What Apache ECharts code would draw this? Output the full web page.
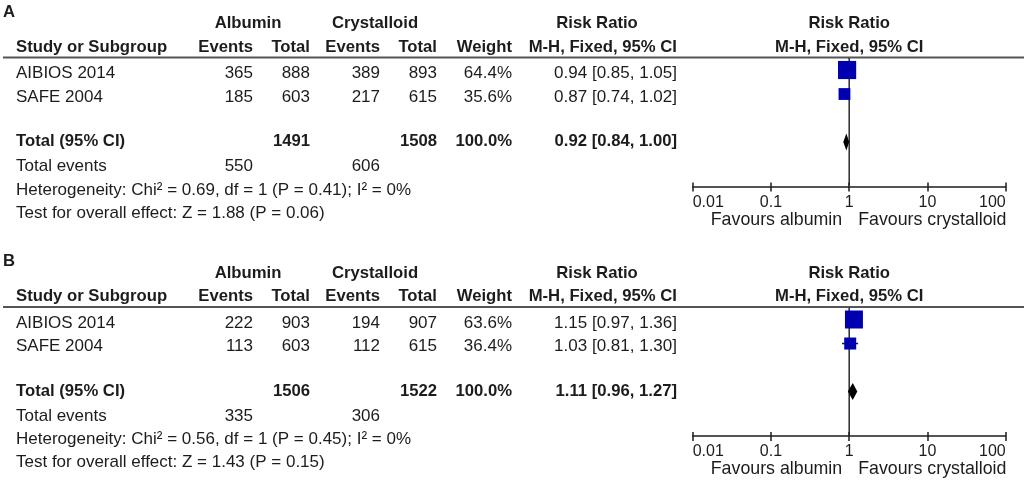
<!DOCTYPE html>
<html><head><meta charset="utf-8">
<script src="https://cdn.jsdelivr.net/npm/echarts@6/dist/echarts.min.js"></script>
<style>html,body{margin:0;padding:0;background:#fff}#c{width:1024px;height:484px}</style>
</head><body><div id="c"></div>
<script>
// ---------- data ----------
const panelLetters = ['A', 'B'];
const studies = ['AIBIOS 2014', 'SAFE 2004'];
const groupNames = ['Albumin', 'Crystalloid'];
const colHeads = ['Study or Subgroup', 'Events', 'Total', 'Events', 'Total', 'Weight'];
const rrHead = ['Risk Ratio', 'M-H, Fixed, 95% CI'];
const tickLabels = ['0.01', '0.1', '1', '10', '100'];
const favours = ['Favours albumin', 'Favours crystalloid'];
const nullEffect = 1;

// Panel A
const aAlbEvents = [365, 185];
const aAlbTotal = [888, 603];
const aCryEvents = [389, 217];
const aCryTotal = [893, 615];
const aWeight = [64.4, 35.6];
const aRR = [0.94, 0.87];
const aLow = [0.85, 0.74];
const aHigh = [1.05, 1.02];
const aPooled = [0.92, 0.84, 1.00];
const aTotals = [1491, 1508, 100.0];
const aTotalEvents = [550, 606];
const aHet = [0.69, 1, 0.41, 0];   // Chi², df, P, I²
const aOverall = [1.88, 0.06];     // Z, P

// Panel B
const bAlbEvents = [222, 113];
const bAlbTotal = [903, 603];
const bCryEvents = [194, 112];
const bCryTotal = [907, 615];
const bWeight = [63.6, 36.4];
const bRR = [1.15, 1.03];
const bLow = [0.97, 0.81];
const bHigh = [1.36, 1.30];
const bPooled = [1.11, 0.96, 1.27];
const bTotals = [1506, 1522, 100.0];
const bTotalEvents = [335, 306];
const bHet = [0.56, 1, 0.45, 0];
const bOverall = [1.43, 0.15];

const panels = [
  {albE: aAlbEvents, albT: aAlbTotal, cryE: aCryEvents, cryT: aCryTotal, w: aWeight, rr: aRR, lo: aLow, hi: aHigh,
   pooled: aPooled, totals: aTotals, tev: aTotalEvents, het: aHet, overall: aOverall},
  {albE: bAlbEvents, albT: bAlbTotal, cryE: bCryEvents, cryT: bCryTotal, w: bWeight, rr: bRR, lo: bLow, hi: bHigh,
   pooled: bPooled, totals: bTotals, tev: bTotalEvents, het: bHet, overall: bOverall}
];

// ---------- layout ----------
const FAM = "'Liberation Sans', Arial, Helvetica, sans-serif";
const FS = 17, FSB = 16.7, FSF = 17.8;
const TXT = '#1c1c1c';
const panelDy = [0, 249.5];
const rowY = {letter: 12, group: 23.5, head: 47, rule: 57.5, study0: 73.5, step: 23.5, total: 141.5, events: 166.5, het: 190, test: 213, favours: 220};
const colX = {study: 16, albE: 253, albT: 310, cryE: 380, cryT: 437, w: 512, rr: 677, albC: 248, cryC: 375, rrC: 597};
const gridLeft = 692.7, gridWidth = 313;
const gridTops = [58, 307.5], gridHeight = 128.5;

const f2 = v => v.toFixed(2);
const ciText = (e, l, h) => `${f2(e)} [${f2(l)}, ${f2(h)}]`;

function txt(text, x, y, align, bold, size) {
  return {
    type: 'text', x: x, y: y, silent: true,
    style: {
      text: String(text), fill: TXT, fontSize: size || (bold ? FSB : FS), fontFamily: FAM, fontWeight: bold ? 'bold' : 'normal',
      align: align, textAlign: align, verticalAlign: 'middle', textVerticalAlign: 'middle'
    }
  };
}

function forestData(p) {
  const d = studies.map((s, i) => [p.rr[i], p.lo[i], p.hi[i], i, p.w[i], 0]);
  d.push([p.pooled[0], p.pooled[1], p.pooled[2], studies.length + 1, p.totals[2], 1]);
  return d;
}

function renderForest(params, api) {
  const est = api.value(0), lo = api.value(1), hi = api.value(2), row = api.value(3), w = api.value(4), kind = api.value(5);
  const pe = api.coord([est, row]), pl = api.coord([lo, row]), ph = api.coord([hi, row]);
  if (kind === 1) {
    const h = 8.5;
    return {type: 'polygon', shape: {points: [[pl[0], pe[1]], [pe[0], pe[1] - h], [ph[0], pe[1]], [pe[0], pe[1] + h]]},
      style: {fill: '#000'}};
  }
  const s = 4 + 0.22 * w;
  return {type: 'group', children: [
    {type: 'line', shape: {x1: pl[0], y1: pe[1], x2: ph[0], y2: pe[1]}, style: {stroke: '#1c1c1c', lineWidth: 1.5}},
    {type: 'rect', shape: {x: pe[0] - s / 2, y: pe[1] - s / 2, width: s, height: s}, style: {fill: '#0000b0'}}
  ]};
}

function renderRef(params, api) {
  const cs = params.coordSys;
  const x = api.coord([api.value(0), 0])[0];
  return {type: 'line', shape: {x1: x, y1: cs.y, x2: x, y2: cs.y + cs.height}, style: {stroke: '#2a2a2a', lineWidth: 1.5}};
}

const labelFmt = v => tickLabels[Math.round(Math.log10(v)) + 2];

const xAxis = [], yAxis = [], grid = [], series = [];
panels.forEach((p, gi) => {
  grid.push({left: gridLeft, width: gridWidth, top: gridTops[gi], height: gridHeight, containLabel: false});
  xAxis.push({
    type: 'log', logBase: 10, min: 0.01, max: 100, gridIndex: gi, position: 'bottom',
    axisLine: {show: true, onZero: false, lineStyle: {color: '#1c1c1c', width: 1.5}},
    axisTick: {show: true, inside: false, length: 5, lineStyle: {color: '#1c1c1c', width: 1.5}},
    minorTick: {show: false}, splitLine: {show: false},
    axisLabel: {show: true, margin: 8, fontSize: 16, color: TXT, fontFamily: FAM,
      alignMinLabel: 'left', alignMaxLabel: 'right', formatter: labelFmt}
  });
  xAxis.push({
    type: 'log', logBase: 10, min: 0.01, max: 100, gridIndex: gi, position: 'bottom',
    axisLine: {show: false, onZero: false},
    axisTick: {show: true, inside: true, length: 4, lineStyle: {color: '#1c1c1c', width: 1.5}},
    minorTick: {show: false}, splitLine: {show: false}, axisLabel: {show: false}
  });
  yAxis.push({type: 'value', gridIndex: gi, inverse: true, min: -0.5, max: 4.85, show: false});
  series.push({
    type: 'custom', xAxisIndex: gi * 2, yAxisIndex: gi, renderItem: renderRef, z: 1,
    data: [[nullEffect]], silent: true
  });
  series.push({
    type: 'custom', xAxisIndex: gi * 2, yAxisIndex: gi, renderItem: renderForest, z: 3,
    data: forestData(p), silent: true
  });
});

const chart = echarts.init(document.getElementById('c'), null, {renderer: 'canvas'});
chart.setOption({animation: false, backgroundColor: '#fff', grid, xAxis, yAxis, series});

// ---------- table text ----------
const graphic = [];
panels.forEach((p, gi) => {
  const dy = panelDy[gi];
  graphic.push(txt(panelLetters[gi], 3, rowY.letter + dy, 'left', true));
  graphic.push(txt(groupNames[0], colX.albC, rowY.group + dy, 'center', true));
  graphic.push(txt(groupNames[1], colX.cryC, rowY.group + dy, 'center', true));
  graphic.push(txt(rrHead[0], colX.rrC, rowY.group + dy, 'center', true));
  const fc = gridLeft + gridWidth / 2;
  graphic.push(txt(rrHead[0], fc, rowY.group + dy, 'center', true));
  graphic.push(txt(rrHead[1], fc, rowY.head + dy, 'center', true));
  graphic.push(txt(colHeads[0], colX.study, rowY.head + dy, 'left', true));
  const hx = [colX.albE, colX.albT, colX.cryE, colX.cryT, colX.w];
  hx.forEach((x, k) => graphic.push(txt(colHeads[k + 1], x, rowY.head + dy, 'right', true)));
  graphic.push(txt(rrHead[1], colX.rr, rowY.head + dy, 'right', true));
  graphic.push({type: 'line', silent: true, shape: {x1: 3, y1: rowY.rule + dy, x2: 1024, y2: rowY.rule + dy},
    style: {stroke: '#555', lineWidth: 2}});
  studies.forEach((s, i) => {
    const y = rowY.study0 + i * rowY.step + dy;
    graphic.push(txt(s, colX.study, y, 'left', false));
    graphic.push(txt(p.albE[i], colX.albE, y, 'right', false));
    graphic.push(txt(p.albT[i], colX.albT, y, 'right', false));
    graphic.push(txt(p.cryE[i], colX.cryE, y, 'right', false));
    graphic.push(txt(p.cryT[i], colX.cryT, y, 'right', false));
    graphic.push(txt(p.w[i].toFixed(1) + '%', colX.w, y, 'right', false));
    graphic.push(txt(ciText(p.rr[i], p.lo[i], p.hi[i]), colX.rr, y, 'right', false));
  });
  const ty = rowY.total + dy;
  graphic.push(txt('Total (95% CI)', colX.study, ty, 'left', true));
  graphic.push(txt(p.totals[0], colX.albT, ty, 'right', true));
  graphic.push(txt(p.totals[1], colX.cryT, ty, 'right', true));
  graphic.push(txt(p.totals[2].toFixed(1) + '%', colX.w, ty, 'right', true));
  graphic.push(txt(ciText(p.pooled[0], p.pooled[1], p.pooled[2]), colX.rr, ty, 'right', true));
  const ey = rowY.events + dy;
  graphic.push(txt('Total events', colX.study, ey, 'left', false));
  graphic.push(txt(p.tev[0], colX.albE, ey, 'right', false));
  graphic.push(txt(p.tev[1], colX.cryE, ey, 'right', false));
  graphic.push(txt(`Heterogeneity: Chi² = ${f2(p.het[0])}, df = ${p.het[1]} (P = ${f2(p.het[2])}); I² = ${p.het[3]}%`,
    colX.study, rowY.het + dy, 'left', false));
  graphic.push(txt(`Test for overall effect: Z = ${f2(p.overall[0])} (P = ${f2(p.overall[1])})`,
    colX.study, rowY.test + dy, 'left', false));
  const x1 = chart.convertToPixel({xAxisIndex: gi * 2}, nullEffect);
  graphic.push(txt(favours[0], x1 - 7, rowY.favours + dy, 'right', false, FSF));
  graphic.push(txt(favours[1], x1 + 9, rowY.favours + dy, 'left', false, FSF));
});
chart.setOption({graphic: graphic});
</script>
</body></html>
